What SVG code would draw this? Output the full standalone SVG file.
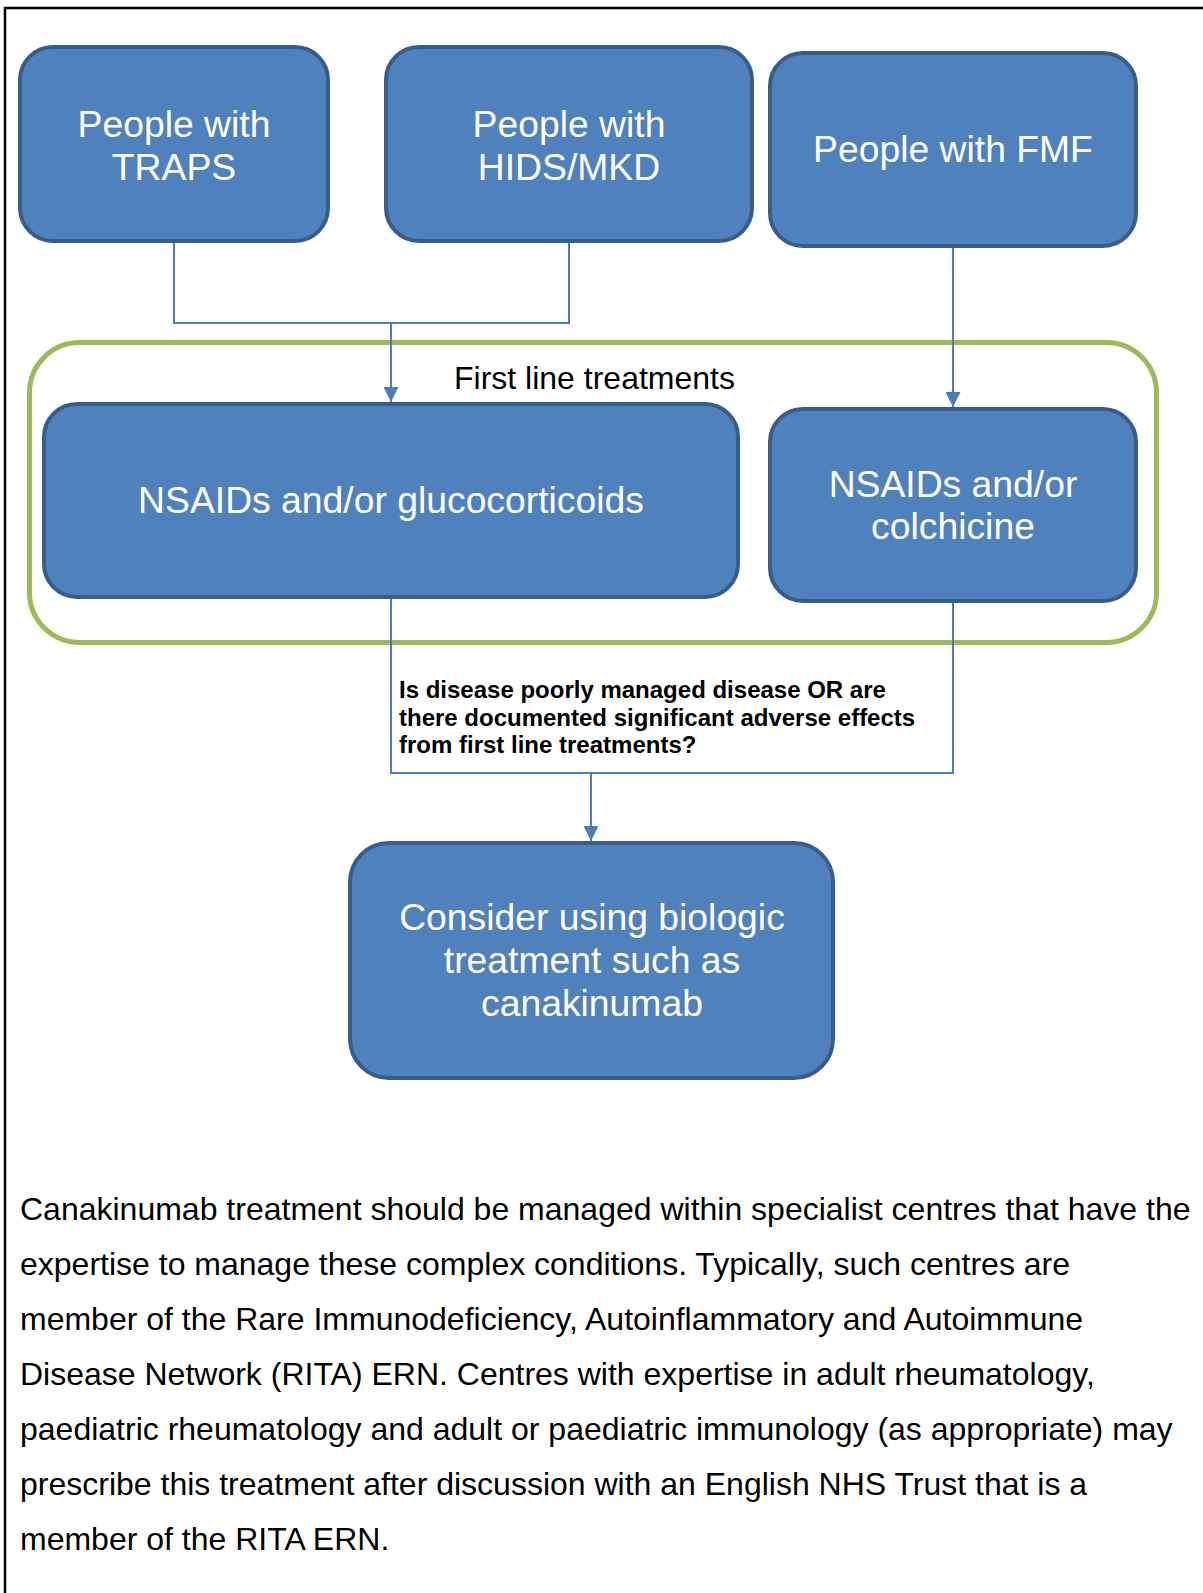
<svg xmlns="http://www.w3.org/2000/svg" width="1203" height="1593" viewBox="0 0 1203 1593">
<defs>
<style>
.node{fill:#4F81BD;stroke:#385D8A;stroke-width:4}
.nt{font-family:"Liberation Sans",Arial,sans-serif;font-size:37.3px;fill:#FFFFFF;text-anchor:middle}
.con{fill:none;stroke:#4A7EBB;stroke-width:2}
.grp{fill:none;stroke:#9BBB59;stroke-width:5}
.lbl{font-family:"Liberation Sans",Arial,sans-serif;fill:#000000}
</style>
<marker id="arr" viewBox="0 0 10 10" refX="10" refY="5" markerWidth="15" markerHeight="15" markerUnits="userSpaceOnUse" orient="auto">
<path d="M0,0 L10,5 L0,10 z" fill="#4A7EBB"/>
</marker>
</defs>
<rect width="1203" height="1593" fill="#FFFFFF"/>
<g id="frame">
<path d="M5,1593 V8 H1203" fill="none" stroke="#000000" stroke-width="2.5"/>
</g>
<g id="first-line-group">
<rect class="grp" x="29.5" y="342.5" width="1127" height="300" rx="50"/>
<text class="lbl" x="454" y="389" font-size="32">First line treatments</text>
</g>
<g id="connectors">
<path class="con" d="M174,243 V323 H391 V402" marker-end="url(#arr)"/>
<path class="con" d="M569,243 V323 H391"/>
<path class="con" d="M953,247 V407" marker-end="url(#arr)"/>
<path class="con" d="M391,598 V773 H591 V841" marker-end="url(#arr)"/>
<path class="con" d="M953,603 V773 H591"/>
<text class="lbl" font-size="24" font-weight="bold">
<tspan x="399" y="698">Is disease poorly managed disease OR are</tspan>
<tspan x="399" y="725.5">there documented significant adverse effects</tspan>
<tspan x="399" y="753">from first line treatments?</tspan>
</text>
</g>
<g id="traps">
<rect class="node" x="20" y="47" width="308" height="194" rx="33"/>
<text class="nt"><tspan x="174" y="137">People with</tspan><tspan x="174" y="180">TRAPS</tspan></text>
</g>
<g id="hids">
<rect class="node" x="386" y="47" width="366" height="194" rx="33"/>
<text class="nt"><tspan x="569" y="137">People with</tspan><tspan x="569" y="180">HIDS/MKD</tspan></text>
</g>
<g id="fmf">
<rect class="node" x="770" y="53" width="366" height="193" rx="33"/>
<text class="nt" x="953" y="162">People with FMF</text>
</g>
<g id="gluco">
<rect class="node" x="44" y="404" width="694" height="193" rx="33"/>
<text class="nt" x="391" y="513">NSAIDs and/or glucocorticoids</text>
</g>
<g id="colchicine">
<rect class="node" x="770" y="409" width="366" height="192" rx="33"/>
<text class="nt"><tspan x="953" y="497">NSAIDs and/or</tspan><tspan x="953" y="539">colchicine</tspan></text>
</g>
<g id="biologic">
<rect class="node" x="350" y="843" width="483" height="235" rx="39"/>
<text class="nt"><tspan x="592" y="930">Consider using biologic</tspan><tspan x="592" y="973">treatment such as</tspan><tspan x="592" y="1016">canakinumab</tspan></text>
</g>
<g id="note">
<text class="lbl" font-size="32">
<tspan x="20" y="1219.5">Canakinumab treatment should be managed within specialist centres that have the</tspan>
<tspan x="20" y="1274.6">expertise to manage these complex conditions. Typically, such centres are</tspan>
<tspan x="20" y="1329.7">member of the Rare Immunodeficiency, Autoinflammatory and Autoimmune</tspan>
<tspan x="20" y="1384.8">Disease Network (RITA) ERN. Centres with expertise in adult rheumatology,</tspan>
<tspan x="20" y="1439.9">paediatric rheumatology and adult or paediatric immunology (as appropriate) may</tspan>
<tspan x="20" y="1495">prescribe this treatment after discussion with an English NHS Trust that is a</tspan>
<tspan x="20" y="1550.1">member of the RITA ERN.</tspan>
</text>
</g>
</svg>
